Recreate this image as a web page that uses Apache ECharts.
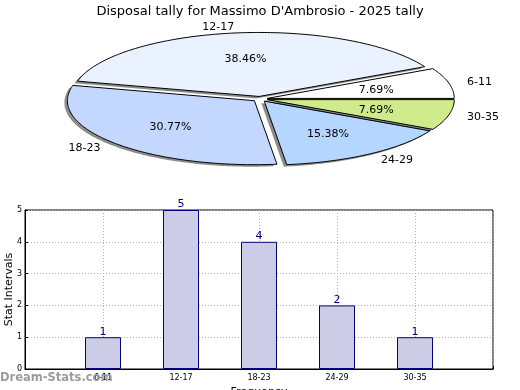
<!DOCTYPE html>
<html>
<head>
<meta charset="utf-8">
<script src="https://cdn.jsdelivr.net/npm/echarts@6/dist/echarts.min.js"></script>
<style>html,body{margin:0;padding:0;background:#fff}#c{width:520px;height:390px}</style>
</head>
<body>
<div id="c"></div>
<script>
var titleText = "Disposal tally for Massimo D'Ambrosio - 2025 tally";
var pieLabels = ['6-11', '12-17', '18-23', '24-29', '30-35'];
var pieValues = [1, 5, 4, 2, 1];
var pieColors = ['#ffffff', '#eaf2ff', '#c4d8ff', '#b4d6ff', '#d0eb8b'];
var barCategories = ['', '6-11', '12-17', '18-23', '24-29', '30-35', ''];
var barValues = [null, 1, 5, 4, 2, 1, null];
var yTicks = [0, 1, 2, 3, 4, 5];

var total = pieValues.reduce(function (a, b) { return a + b; }, 0);
var FONT = 'DejaVu Sans';

function renderSlice(params, api) {
  var i = params.dataIndex;
  var cx = 260, cy = 99, rx = 187, ry = 64, ex = 0.04;
  var before = 0;
  for (var k = 0; k < i; k++) before += pieValues[k];
  var v = api.value(1);
  var a0 = before / total * 2 * Math.PI;
  var a1 = (before + v) / total * 2 * Math.PI;
  var mid = (a0 + a1) / 2;
  var ox = ex * rx * Math.cos(mid), oy = -ex * ry * Math.sin(mid);
  var pcx = cx + ox, pcy = cy + oy;
  var n = Math.max(4, Math.ceil((a1 - a0) / (Math.PI / 180)));
  function pts(dx, dy) {
    var p = [[pcx + dx, pcy + dy]];
    for (var j = 0; j <= n; j++) {
      var a = a0 + (a1 - a0) * j / n;
      p.push([pcx + dx + rx * Math.cos(a), pcy + dy - ry * Math.sin(a)]);
    }
    return p;
  }
  var pct = (v / total * 100).toFixed(2) + '%';
  var c = Math.cos(mid), s = Math.sin(mid);
  return {
    type: 'group',
    children: [
      {
        type: 'polygon',
        shape: { points: pts(-3, 2) },
        style: { fill: 'rgba(0,0,0,0.45)', stroke: null }
      },
      {
        type: 'polygon',
        shape: { points: pts(0, 0) },
        style: { fill: pieColors[i], stroke: '#000', lineWidth: 1, lineJoin: 'miter' }
      },
      {
        type: 'text',
        style: {
          text: pct, x: pcx + 0.6 * rx * c, y: pcy - 0.6 * ry * s + 1,
          align: 'center', verticalAlign: 'middle',
          font: '11px "' + FONT + '"', fill: '#000'
        }
      },
      {
        type: 'text',
        style: {
          text: pieLabels[i], x: pcx + 1.1 * rx * c, y: pcy - 1.1 * ry * s + 1,
          align: c >= 0 ? 'left' : 'right', verticalAlign: 'middle',
          font: '11px "' + FONT + '"', fill: '#000'
        }
      }
    ]
  };
}

var chart = echarts.init(document.getElementById('c'), null, { renderer: 'canvas' });
chart.setOption({
  animation: false,
  backgroundColor: '#fff',
  textStyle: { fontFamily: FONT },
  title: {
    text: titleText, left: 'center', top: 0,
    textStyle: { fontSize: 13, fontWeight: 'normal', color: '#000', fontFamily: FONT }
  },
  graphic: [{
    type: 'text', left: 0, top: 372, z: 100,
    style: { text: 'Dream-Stats.com', font: 'bold 11.5px "' + FONT + '"', fill: 'rgba(150,150,150,0.95)' }
  }],
  grid: {
    left: 25, right: 27, top: 210, bottom: 21,
    outerBoundsMode: 'none', containLabel: false,
    show: true, borderColor: '#000', borderWidth: 1, backgroundColor: 'transparent'
  },
  xAxis: {
    type: 'category', data: barCategories, boundaryGap: false,
    name: 'Frequency', nameLocation: 'middle', nameGap: 18, nameMoveOverlap: false,
    nameTextStyle: { fontSize: 11, color: '#000', fontFamily: FONT },
    axisLine: { lineStyle: { color: '#000' } },
    axisTick: { show: true, inside: true, length: 3, lineStyle: { color: '#000' } },
    axisLabel: { fontSize: 8, color: '#000', margin: 5, interval: 0 },
    splitLine: { show: true, lineStyle: { color: '#b0b0b0', type: [1, 2], width: 1 } }
  },
  yAxis: {
    type: 'value', min: 0, max: 5, interval: 1,
    name: 'Stat Intervals', nameLocation: 'middle', nameGap: 10, nameMoveOverlap: false,
    nameTextStyle: { fontSize: 11, color: '#000', fontFamily: FONT },
    axisLine: { show: true, lineStyle: { color: '#000' } },
    axisTick: { show: true, inside: true, length: 3, lineStyle: { color: '#000' } },
    axisLabel: { fontSize: 8, color: '#000', margin: 3 },
    splitLine: { show: true, lineStyle: { color: '#b0b0b0', type: [1, 2], width: 1 } }
  },
  series: [
    {
      type: 'bar', data: barValues, barWidth: 36,
      itemStyle: { color: 'rgba(204,204,230,1)', borderColor: '#000080', borderWidth: 1 },
      label: { show: true, position: 'top', distance: 0, color: '#000080', fontSize: 11, fontFamily: FONT }
    },
    {
      type: 'custom', coordinateSystem: 'none',
      data: pieValues.map(function (v, i) { return [i, v]; }),
      renderItem: renderSlice
    }
  ]
});
</script>
</body>
</html>
